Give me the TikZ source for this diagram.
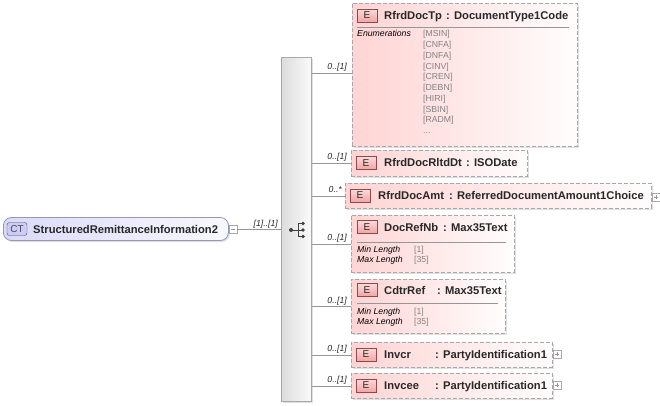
\documentclass[tikz,border=0pt]{standalone}
\usepackage{fontspec}
\setmainfont{Liberation Sans}
\usetikzlibrary{shadows}
\definecolor{pinkL}{RGB}{255,212,212}
\definecolor{pinkR}{RGB}{255,253,253}
\definecolor{bordG}{RGB}{168,168,168}
\definecolor{lineG}{RGB}{150,150,150}
\definecolor{badgeB}{RGB}{150,70,70}
\definecolor{badgeT}{RGB}{252,218,218}
\definecolor{badgeBo}{RGB}{240,165,165}
\definecolor{ctL}{RGB}{218,218,248}
\definecolor{ctR}{RGB}{248,248,255}
\definecolor{ctB}{RGB}{150,150,185}
\definecolor{ctBadge}{RGB}{205,205,242}
\definecolor{ctBadgeB}{RGB}{70,70,110}
\definecolor{enumG}{RGB}{130,130,130}
\definecolor{seqL}{RGB}{220,220,220}
\definecolor{seqR}{RGB}{250,250,250}
\definecolor{txtD}{RGB}{40,40,40}
\tikzset{
  ebox/.style={draw=bordG, dash pattern=on 4pt off 2pt, line width=0.8pt,
    left color=pinkL, right color=pinkR, anchor=north west, inner sep=0pt,
    drop shadow={shadow xshift=1.5pt, shadow yshift=-1.5pt, fill=black, opacity=0.12}},
  ebadge/.style={draw=badgeB, line width=0.6pt, top color=badgeT, bottom color=badgeBo,
    minimum width=20pt, minimum height=13pt, inner sep=0pt,
    font=\fontsize{10}{10}\selectfont, text=txtD},
  ttl/.style={inner sep=0pt, text height=8pt, text depth=0pt, anchor=west,
    font=\fontsize{11.2}{13}\selectfont\bfseries, text=txtD},
  sm/.style={inner sep=0pt, text height=6pt, text depth=0pt, anchor=west,
    font=\fontsize{8.7}{10}\selectfont\itshape, text=black},
  enumv/.style={inner sep=0pt, text height=6pt, text depth=0pt, anchor=west,
    font=\fontsize{8.7}{10}\selectfont, text=enumG},
  lbl/.style={inner sep=0pt, anchor=base east, font=\fontsize{8.7}{10}\selectfont\itshape, text=txtD},
  conn/.style={draw=lineG, line width=0.8pt},
  divl/.style={draw=lineG, line width=0.7pt},
  pm/.style={draw=bordG, fill=white, minimum width=8pt, minimum height=8pt, inner sep=0pt, line width=0.6pt},
}
\begin{document}
\begin{tikzpicture}[x=1pt,y=-1pt]
\useasboundingbox (0,0) rectangle (660,406);

% root complex type
\node[draw=ctB, line width=0.8pt, rounded corners=8pt, left color=ctL, right color=ctR,
  minimum width=225pt, minimum height=23pt, anchor=west, inner sep=0pt,
  drop shadow={shadow xshift=1.5pt, shadow yshift=-1.5pt, fill=black, opacity=0.12}] (ct) at (3,229) {};
\node[draw=ctBadgeB, fill=ctBadge, rounded corners=2.5pt, minimum width=20pt, minimum height=13pt,
  inner sep=0pt, font=\fontsize{10}{10}\selectfont, text=ctBadgeB] (ctb) at (17,229) {CT};
\node[ttl] (ctt) at (33,229) {StructuredRemittanceInformation2};
\node[pm] (ctm) at (233,229) {};
\draw[lineG, line width=0.7pt] (ctm.west) ++(2,0) -- ++(4,0);

% sequence compositor
\node[draw=bordG, line width=0.8pt, left color=seqL, right color=seqR, anchor=north west,
  minimum width=30pt, minimum height=344pt, inner sep=0pt,
  drop shadow={shadow xshift=1.5pt, shadow yshift=-1.5pt, fill=black, opacity=0.12}] (seq) at (281,57) {};
\draw[conn] (ctm.east) -- (seq.west |- ctm.east);
\node[lbl] (ctl) at (278,226) {[1]..[1]};
% sequence icon
\begin{scope}[black!75, line width=0.8pt]
  \draw (291,230) -- (298,230);
  \draw (298,223.5) -- (298,236.5);
  \draw (298,223.5) -- (303,223.5);
  \draw (298,230) -- (303,230);
  \draw (298,236.5) -- (303,236.5);
  \fill (291,230) circle (2pt);
  \fill (303,223.5) circle (1.9pt);
  \fill (303,230) circle (1.9pt);
  \fill (303,236.5) circle (1.9pt);
\end{scope}

% 1 RfrdDocTp
\node[ebox, minimum width=225pt, minimum height=143pt] (e1) at (352,3) {};
\node[ebadge] (e1b) at (367,15.5) {E};
\node[ttl] (e1n) at (384,15.5) {RfrdDocTp};
\node[ttl] (e1t) at (446,15.5) {: DocumentType1Code};
\draw[divl] (357,27) -- (569,27);
\node[sm] (e1en) at (357,34) {Enumerations};
\node[enumv] (v1) at (423,34) {[MSIN]};
\node[enumv] (v2) at (423,44.75) {[CNFA]};
\node[enumv] (v3) at (423,55.5) {[DNFA]};
\node[enumv] (v4) at (423,66.25) {[CINV]};
\node[enumv] (v5) at (423,77) {[CREN]};
\node[enumv] (v6) at (423,87.75) {[DEBN]};
\node[enumv] (v7) at (423,98.5) {[HIRI]};
\node[enumv] (v8) at (423,109.25) {[SBIN]};
\node[enumv] (v9) at (423,120) {[RADM]};
\node[enumv] (v10) at (423,130.75) {...};
\draw[conn] (seq.east |- 0,73) -- (e1.west |- 0,73);
\node[lbl] at (347,70) {0..[1]};

% 2 RfrdDocRltdDt
\node[ebox, minimum width=176pt, minimum height=26pt] (e2) at (351,150) {};
\node[ebadge] (e2b) at (366,163) {E};
\node[ttl] (e2n) at (384,163) {RfrdDocRltdDt};
\node[ttl] (e2t) at (466,163) {: ISODate};
\draw[conn] (seq.east |- e2.west) -- (e2.west);
\node[lbl] at (347,160) {0..[1]};

% 3 RfrdDocAmt
\node[ebox, minimum width=306pt, minimum height=25pt] (e3) at (345,183) {};
\node[ebadge] (e3b) at (360,195.5) {E};
\node[ttl] (e3n) at (378,195.5) {RfrdDocAmt};
\node[ttl] (e3t) at (449,195.5) {: ReferredDocumentAmount1Choice};
\node[pm] (p3) at (656,197) {};
\draw[lineG, line width=0.6pt] (p3.west) ++(2,0) -- ++(4,0) (p3.north) ++(0,2) -- ++(0,4);
\draw[conn] (seq.east |- e3.west) -- (e3.west);
\node[lbl] at (342,192) {0..*};

% 4 DocRefNb
\node[ebox, minimum width=163pt, minimum height=57pt] (e4) at (351,215) {};
\node[ebadge] (e4b) at (367,227) {E};
\node[ttl] (e4n) at (384,227) {DocRefNb};
\node[ttl] (e4t) at (443,227) {: Max35Text};
\draw[divl] (357,242) -- (506,242);
\node[sm] at (357,249) {Min Length};
\node[sm] at (357,259) {Max Length};
\node[enumv] at (414,249) {[1]};
\node[enumv] at (414,259) {[35]};
\draw[conn] (seq.east |- e4.west) -- (e4.west);
\node[lbl] at (347,240.5) {0..[1]};

% 5 CdtrRef
\node[ebox, minimum width=154pt, minimum height=54pt] (e5) at (351,279) {};
\node[ebadge] (e5b) at (367,290) {E};
\node[ttl] (e5n) at (384,290) {CdtrRef};
\node[ttl] (e5t) at (437,290) {: Max35Text};
\draw[divl] (357,303) -- (498,303);
\node[sm] at (357,311) {Min Length};
\node[sm] at (357,321) {Max Length};
\node[enumv] at (414,311) {[1]};
\node[enumv] at (414,321) {[35]};
\draw[conn] (seq.east |- e5.west) -- (e5.west);
\node[lbl] at (347,303) {0..[1]};

% 6 Invcr
\node[ebox, minimum width=201pt, minimum height=25pt] (e6) at (351,342) {};
\node[ebadge] (e6b) at (366,354.5) {E};
\node[ttl] (e6n) at (384,354.5) {Invcr};
\node[ttl] (e6t) at (435,354.5) {: PartyIdentification1};
\node[pm] (p6) at (557,354.5) {};
\draw[lineG, line width=0.6pt] (p6.west) ++(2,0) -- ++(4,0) (p6.north) ++(0,2) -- ++(0,4);
\draw[conn] (seq.east |- e6.west) -- (e6.west);
\node[lbl] at (347,351) {0..[1]};

% 7 Invcee
\node[ebox, minimum width=201pt, minimum height=25pt] (e7) at (351,373) {};
\node[ebadge] (e7b) at (366,385.5) {E};
\node[ttl] (e7n) at (384,385.5) {Invcee};
\node[ttl] (e7t) at (435,385.5) {: PartyIdentification1};
\node[pm] (p7) at (557,385.5) {};
\draw[lineG, line width=0.6pt] (p7.west) ++(2,0) -- ++(4,0) (p7.north) ++(0,2) -- ++(0,4);
\draw[conn] (seq.east |- e7.west) -- (e7.west);
\node[lbl] at (347,382) {0..[1]};
\end{tikzpicture}
\end{document}
